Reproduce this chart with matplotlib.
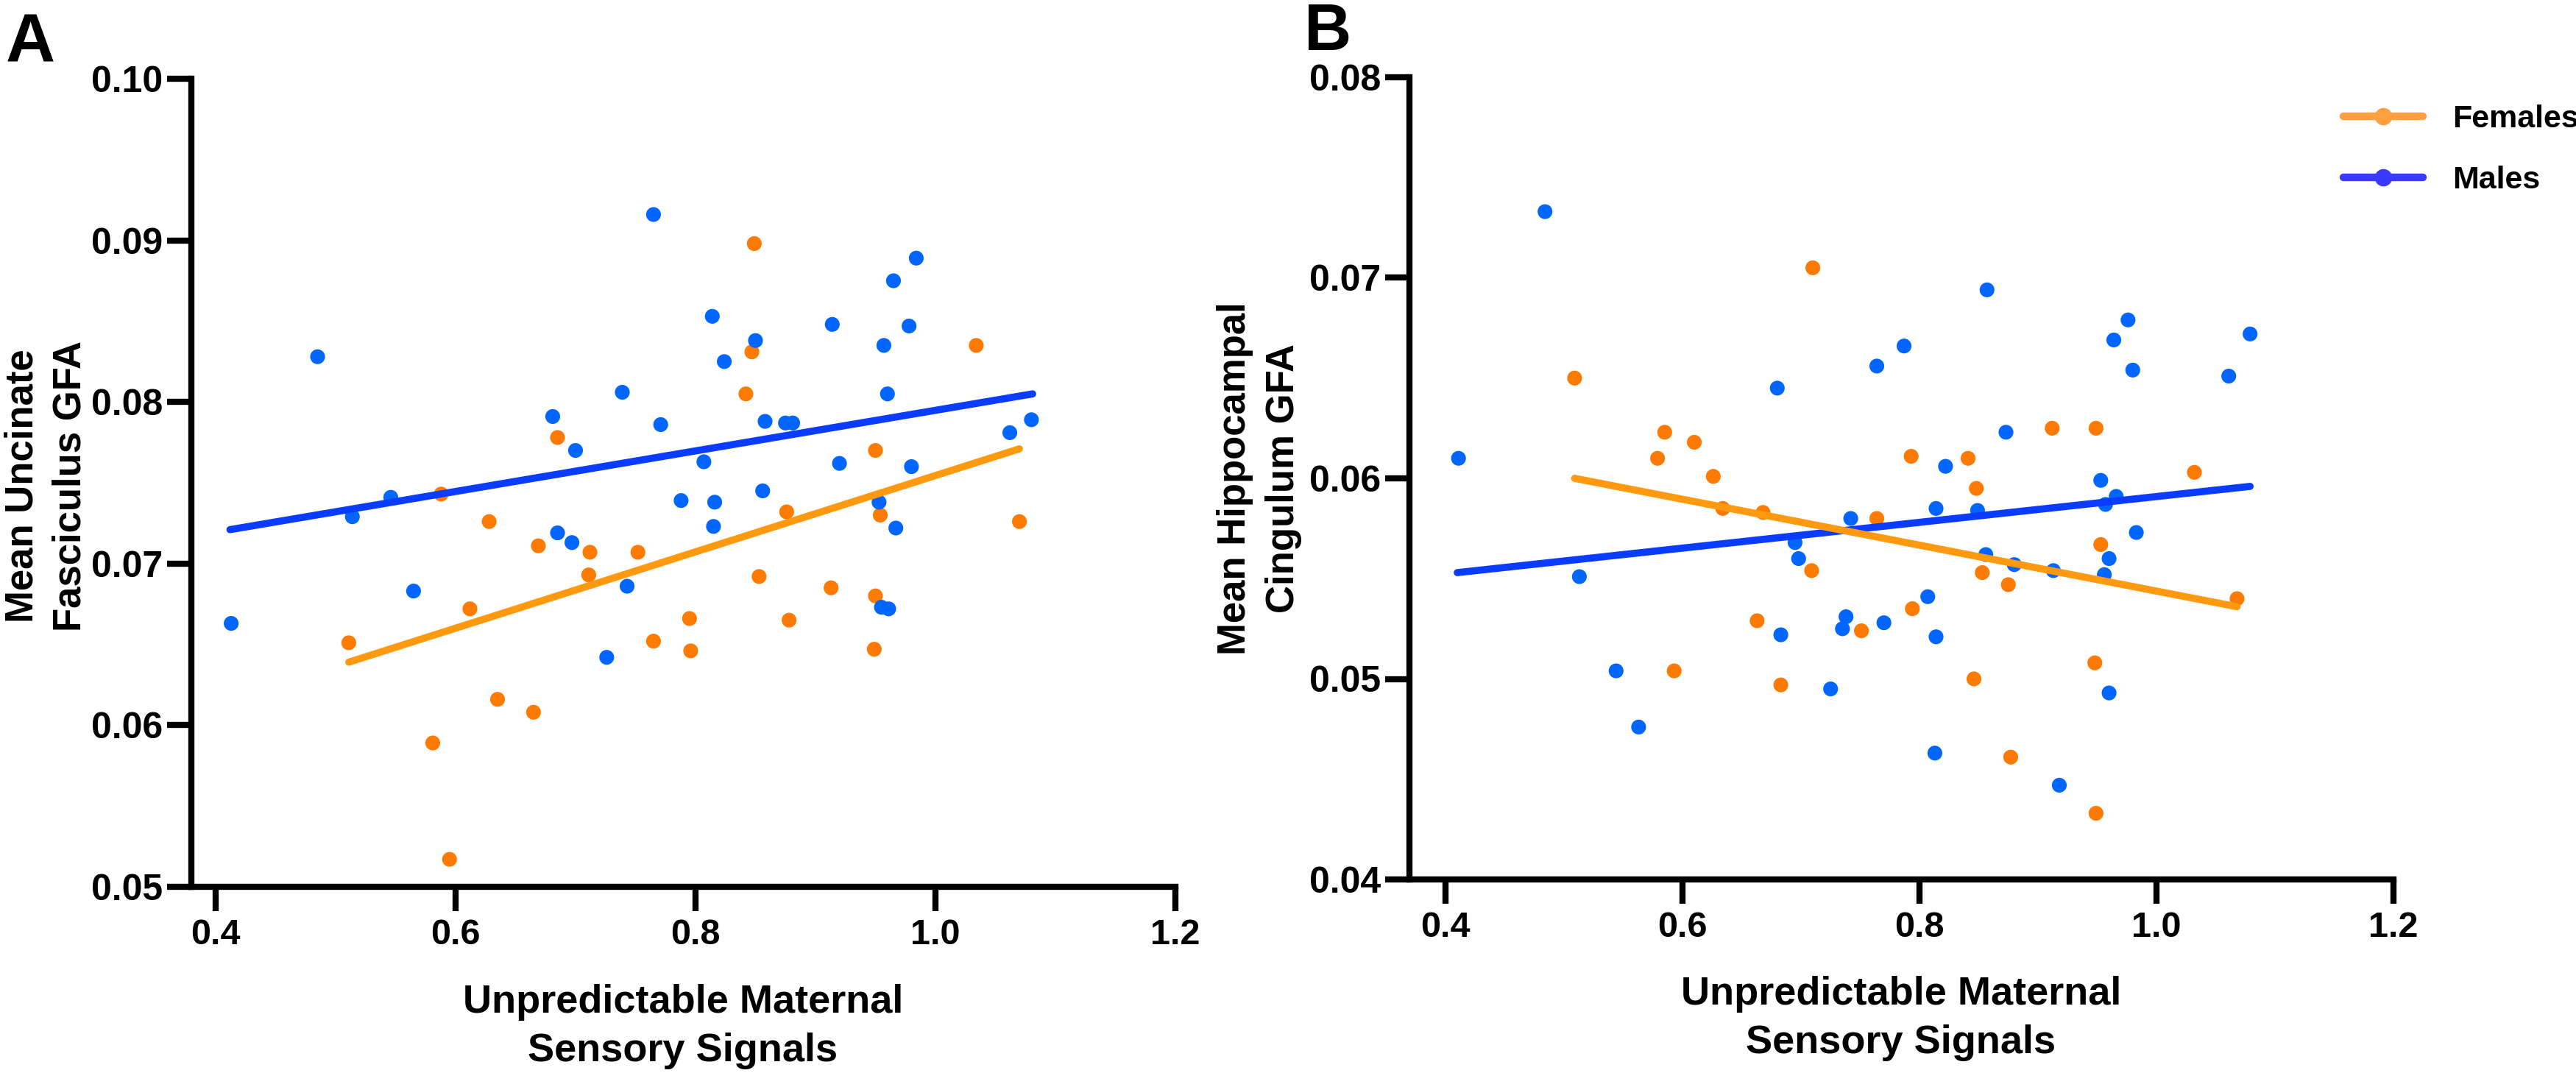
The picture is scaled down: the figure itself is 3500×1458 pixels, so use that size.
import matplotlib
matplotlib.use('Agg')
import matplotlib.pyplot as plt
from matplotlib.lines import Line2D

plt.rcParams['font.family'] = ['Liberation Sans', 'DejaVu Sans']
plt.rcParams['font.weight'] = 'bold'

# ---------------- data ----------------
# Panel A: Mean Uncinate Fasciculus GFA
a_fem_x = [0.511, 0.581, 0.588, 0.595, 0.612, 0.628, 0.635, 0.665, 0.669, 0.685,
           0.711, 0.712, 0.752, 0.765, 0.795, 0.796, 0.842, 0.847, 0.849, 0.853,
           0.876, 0.878, 0.913, 0.949, 0.950, 0.950, 0.954, 1.034, 1.070]
a_fem_y = [0.0651, 0.0589, 0.0743, 0.0517, 0.0672, 0.0726, 0.0616, 0.0608, 0.0711, 0.0778,
           0.0693, 0.0707, 0.0707, 0.0652, 0.0666, 0.0646, 0.0805, 0.0831, 0.0898, 0.0692,
           0.0732, 0.0665, 0.0685, 0.0647, 0.0680, 0.0770, 0.0730, 0.0835, 0.0726]
a_mal_x = [0.413, 0.485, 0.514, 0.546, 0.565, 0.681, 0.685, 0.697, 0.700, 0.726,
           0.739, 0.743, 0.765, 0.771, 0.788, 0.807, 0.814, 0.815, 0.816, 0.824,
           0.850, 0.856, 0.858, 0.875, 0.881, 0.914, 0.920, 0.953, 0.957, 0.955,
           0.961, 0.960, 0.965, 0.967, 0.978, 0.980, 0.984, 1.062, 1.080]
a_mal_y = [0.0663, 0.0828, 0.0729, 0.0741, 0.0683, 0.0791, 0.0719, 0.0713, 0.0770, 0.0642,
           0.0806, 0.0686, 0.0916, 0.0786, 0.0739, 0.0763, 0.0853, 0.0723, 0.0738, 0.0825,
           0.0838, 0.0745, 0.0788, 0.0787, 0.0787, 0.0848, 0.0762, 0.0738, 0.0835, 0.0673,
           0.0672, 0.0805, 0.0875, 0.0722, 0.0847, 0.0760, 0.0889, 0.0781, 0.0789]
a_fit_fem_x = [0.511, 1.070]
a_fit_fem_y = [0.0639, 0.0771]
a_fit_mal_x = [0.412, 1.081]
a_fit_mal_y = [0.0721, 0.0805]

# Panel B: Mean Hippocampal Cingulum GFA
b_fem_x = [0.509, 0.579, 0.585, 0.593, 0.610, 0.626, 0.634, 0.663, 0.668, 0.683,
           0.709, 0.710, 0.751, 0.764, 0.793, 0.794, 0.841, 0.846, 0.848, 0.853,
           0.875, 0.877, 0.912, 0.948, 0.949, 0.949, 0.953, 1.032, 1.068]
b_fem_y = [0.0650, 0.0610, 0.0623, 0.0504, 0.0618, 0.0601, 0.0585, 0.0529, 0.0583, 0.0497,
           0.0554, 0.0705, 0.0524, 0.0580, 0.0611, 0.0535, 0.0610, 0.0500, 0.0595, 0.0553,
           0.0547, 0.0461, 0.0625, 0.0508, 0.0625, 0.0433, 0.0567, 0.0603, 0.0540]
b_mal_x = [0.411, 0.484, 0.513, 0.544, 0.563, 0.680, 0.683, 0.695, 0.698, 0.725,
           0.735, 0.738, 0.742, 0.764, 0.770, 0.787, 0.807, 0.813, 0.814, 0.814,
           0.822, 0.849, 0.856, 0.857, 0.873, 0.880, 0.913, 0.918, 0.953, 0.956,
           0.957, 0.960, 0.960, 0.964, 0.966, 0.976, 0.980, 0.983, 1.061, 1.079]
b_mal_y = [0.0610, 0.0733, 0.0551, 0.0504, 0.0476, 0.0645, 0.0522, 0.0568, 0.0560, 0.0495,
           0.0525, 0.0531, 0.0580, 0.0656, 0.0528, 0.0666, 0.0541, 0.0463, 0.0585, 0.0521,
           0.0606, 0.0584, 0.0562, 0.0694, 0.0623, 0.0557, 0.0554, 0.0447, 0.0599, 0.0552,
           0.0587, 0.0560, 0.0493, 0.0669, 0.0591, 0.0679, 0.0654, 0.0573, 0.0651, 0.0672]
b_fit_fem_x = [0.509, 1.068]
b_fit_fem_y = [0.0600, 0.0536]
b_fit_mal_x = [0.410, 1.079]
b_fit_mal_y = [0.0553, 0.0596]

x_ticks = [0.4, 0.6, 0.8, 1.0, 1.2]
x_ticklabels = ['0.4', '0.6', '0.8', '1.0', '1.2']
a_yticks = [0.05, 0.06, 0.07, 0.08, 0.09, 0.10]
a_yticklabels = ['0.05', '0.06', '0.07', '0.08', '0.09', '0.10']
b_yticks = [0.04, 0.05, 0.06, 0.07, 0.08]
b_yticklabels = ['0.04', '0.05', '0.06', '0.07', '0.08']

series_labels = ['Females', 'Males']
xlabel_text = 'Unpredictable Maternal\nSensory Signals'
a_ylabel_text = 'Mean Uncinate\nFasciculus GFA'
b_ylabel_text = 'Mean Hippocampal\nCingulum GFA'

# ---------------- style ----------------
DOT_BLUE = '#0066FF'
DOT_ORANGE = '#FF7A00'
LINE_BLUE = '#0A3CFF'
LINE_ORANGE = '#FF9A10'
LEG_BLUE = '#3A3AFF'
LEG_ORANGE = '#FFA040'

W, H = 3500, 1458
fig = plt.figure(figsize=(35, 14.58), dpi=100)
axA = fig.add_axes([260 / W, 1 - 1205 / H, (1597 - 260) / W, (1205 - 107) / H])
axB = fig.add_axes([1915 / W, 1 - 1195 / H, (3252 - 1915) / W, (1195 - 105) / H])


def style(ax, xlim, ylim, yticks, yticklabels):
    ax.set_xlim(xlim)
    ax.set_ylim(ylim)
    for s in ['top', 'right']:
        ax.spines[s].set_visible(False)
    for s in ['left', 'bottom']:
        ax.spines[s].set_linewidth(6)
        ax.spines[s].set_capstyle('projecting')
    ax.set_xticks(x_ticks)
    ax.set_xticklabels(x_ticklabels, fontsize=35, fontweight='bold')
    ax.set_yticks(yticks)
    ax.set_yticklabels(yticklabels, fontsize=36, fontweight='bold')
    ax.tick_params(axis='x', length=24, width=6, pad=7)
    ax.tick_params(axis='y', length=24, width=6, pad=4)
    ax.set_facecolor('none')


def draw(ax, fx, fy, mx, my, ffx, ffy, mfx, mfy):
    ax.scatter(fx, fy, s=210, color=DOT_ORANGE, edgecolors='none', zorder=2, clip_on=False)
    ax.scatter(mx, my, s=210, color=DOT_BLUE, edgecolors='none', zorder=2, clip_on=False)
    ax.plot(mfx, mfy, color=LINE_BLUE, lw=7, solid_capstyle='round', zorder=3)
    ax.plot(ffx, ffy, color=LINE_ORANGE, lw=7, solid_capstyle='round', zorder=3)


draw(axA, a_fem_x, a_fem_y, a_mal_x, a_mal_y, a_fit_fem_x, a_fit_fem_y, a_fit_mal_x, a_fit_mal_y)
draw(axB, b_fem_x, b_fem_y, b_mal_x, b_mal_y, b_fit_fem_x, b_fit_fem_y, b_fit_mal_x, b_fit_mal_y)
style(axA, (0.3798, 1.2), (0.05, 0.10), a_yticks, a_yticklabels)
style(axB, (0.3696, 1.2), (0.04, 0.08), b_yticks, b_yticklabels)

# axis titles
fig.text(928 / W, 1 - 1337 / H, xlabel_text, ha='center', va='top', fontsize=39,
         fontweight='bold', linespacing=1.4)
fig.text(2583 / W, 1 - 1326 / H, xlabel_text, ha='center', va='top', fontsize=39,
         fontweight='bold', linespacing=1.4)
fig.text(63 / W, 1 - 660 / H, a_ylabel_text, ha='center', va='center', rotation=90,
         fontsize=38, fontweight='bold', linespacing=1.4)
fig.text(1711 / W, 1 - 650 / H, b_ylabel_text, ha='center', va='center', rotation=90,
         fontsize=38, fontweight='bold', linespacing=1.4)

# panel letters
fig.text(8 / W, 1 - 84 / H, 'A', ha='left', va='baseline', fontsize=67, fontweight='bold')
fig.text(1772 / W, 1 - 68 / H, 'B', ha='left', va='baseline', fontsize=64, fontweight='bold')

# legend
handles = [
    Line2D([], [], color=LEG_ORANGE, lw=7.5, marker='o', ms=16, solid_capstyle='round'),
    Line2D([], [], color=LEG_BLUE, lw=7.5, marker='o', ms=16, solid_capstyle='round'),
]
fig.legend(handles, series_labels, loc='upper left', bbox_to_anchor=(3184 / W, 1 - 142 / H),
           frameon=False, prop={'size': 31, 'weight': 'bold'}, handlelength=2.5,
           handletextpad=0.95, labelspacing=1.0, borderpad=0, borderaxespad=0)

fig.savefig('out.png', dpi=100, facecolor='white')
